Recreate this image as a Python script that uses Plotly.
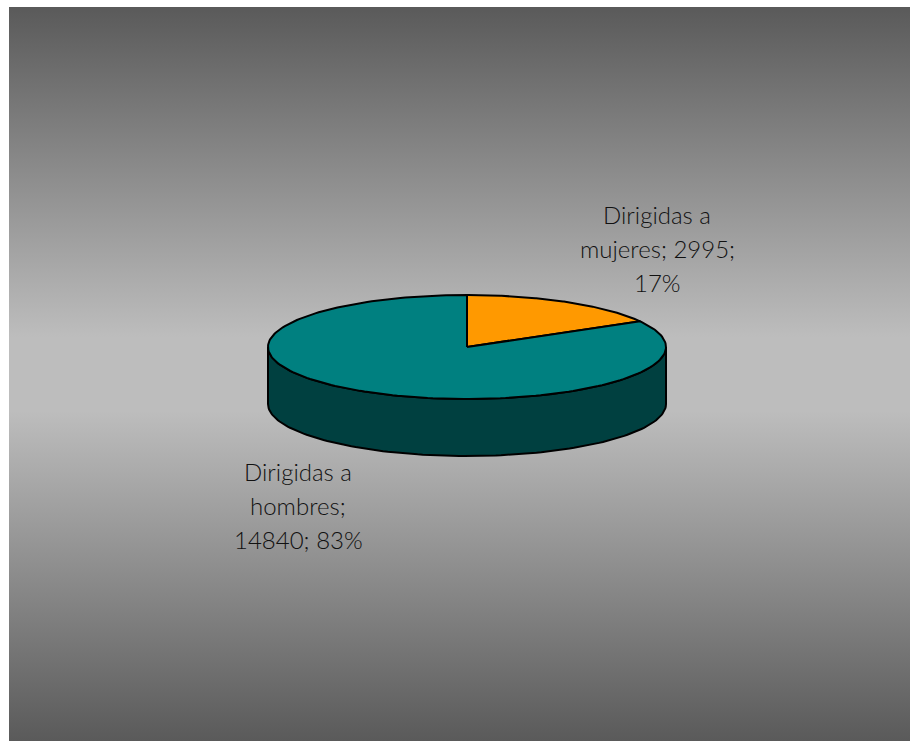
import base64
import numpy as np
import plotly.graph_objects as go

# ---- data ----
categories = ["Dirigidas a mujeres", "Dirigidas a hombres"]
values = [2995, 14840]
top_colors = ["#FF9900", "#008080"]
side_colors = ["#7F4C00", "#004040"]

# ---- geometry (pixel-like layout space) ----
W, H = 910, 741
cx, cy = 467, 347
rx, ry = 199, 52
depth = 57

total = sum(values)
pcts = [round(v / total * 100) for v in values]


def pt(theta_deg, yoff=0.0):
    t = np.radians(theta_deg)
    return cx + rx * np.sin(t), cy - ry * np.cos(t) + yoff


fig = go.Figure()

# background gradient as an SVG image
svg = (
    '<svg xmlns="http://www.w3.org/2000/svg" width="100" height="100" preserveAspectRatio="none">'
    '<defs><linearGradient id="g" x1="0" y1="0" x2="0" y2="1">'
    '<stop offset="0" stop-color="#5a5a5a"/>'
    '<stop offset="0.45" stop-color="#bdbdbd"/>'
    '<stop offset="0.55" stop-color="#bdbdbd"/>'
    '<stop offset="1" stop-color="#5a5a5a"/>'
    '</linearGradient></defs>'
    '<rect x="0" y="0" width="100" height="100" fill="url(#g)"/></svg>'
)
src = "data:image/svg+xml;base64," + base64.b64encode(svg.encode()).decode()
bg_left, bg_top = 9, 7
fig.add_layout_image(dict(source=src, xref="paper", yref="paper",
                          x=bg_left / W, y=1 - bg_top / H,
                          sizex=1 - bg_left / W, sizey=1 - bg_top / H,
                          xanchor="left", yanchor="top", sizing="stretch",
                          layer="below"))

# slice angles (clockwise from 12 o'clock)
starts, ends = [], []
acc = 0.0
for v in values:
    starts.append(acc / total * 360)
    acc += v
    ends.append(acc / total * 360)

# side wall: visible front half (90..270 deg), per slice
for i in range(len(values)):
    a0 = max(starts[i], 90)
    a1 = min(ends[i], 270)
    if a1 <= a0:
        continue
    th = np.linspace(a0, a1, 120)
    xs_t, ys_t = pt(th)
    xs_b, ys_b = pt(th[::-1], depth)
    xs = np.concatenate([xs_t, xs_b, [xs_t[0]]])
    ys = np.concatenate([ys_t, ys_b, [ys_t[0]]])
    fig.add_trace(go.Scatter(x=xs, y=ys, mode="lines", fill="toself",
                             fillcolor=side_colors[i],
                             line=dict(color="black", width=2),
                             hoverinfo="skip", showlegend=False))

# top faces
for i in range(len(values)):
    th = np.linspace(starts[i], ends[i], 200)
    xs_a, ys_a = pt(th)
    xs = np.concatenate([[cx], xs_a, [cx]])
    ys = np.concatenate([[cy], ys_a, [cy]])
    fig.add_trace(go.Scatter(x=xs, y=ys, mode="lines", fill="toself",
                             fillcolor=top_colors[i],
                             line=dict(color="black", width=2),
                             name=categories[i], hoverinfo="name",
                             showlegend=False))

# labels (one annotation per line to match line spacing)
label_lines = [
    ["Dirigidas a", "mujeres; %d;" % values[0], "%d%%" % pcts[0]],
    ["Dirigidas a", "hombres;", "%d; %d%%" % (values[1], pcts[1])],
]
label_pos = [(657, 214), (298, 471)]
line_gap = 34
for lines, (lx, ly) in zip(label_lines, label_pos):
    for k, t in enumerate(lines):
        fig.add_annotation(x=lx, y=ly + k * line_gap, text=t, showarrow=False,
                           xref="x", yref="y", xanchor="center", yanchor="middle",
                           font=dict(family="Lato, DejaVu Sans", size=24,
                                     color="#111111", weight=300))

fig.update_layout(
    width=W, height=H,
    margin=dict(l=0, r=0, t=0, b=0),
    paper_bgcolor="white", plot_bgcolor="rgba(0,0,0,0)",
    xaxis=dict(range=[0, W], visible=False, fixedrange=True),
    yaxis=dict(range=[H, 0], visible=False, fixedrange=True),
    showlegend=False,
)

fig.write_html("out.html", config={"displayModeBar": False},
               post_script="document.body.style.margin='0';document.body.style.padding='0';"
                           "document.body.style.overflow='hidden';")
